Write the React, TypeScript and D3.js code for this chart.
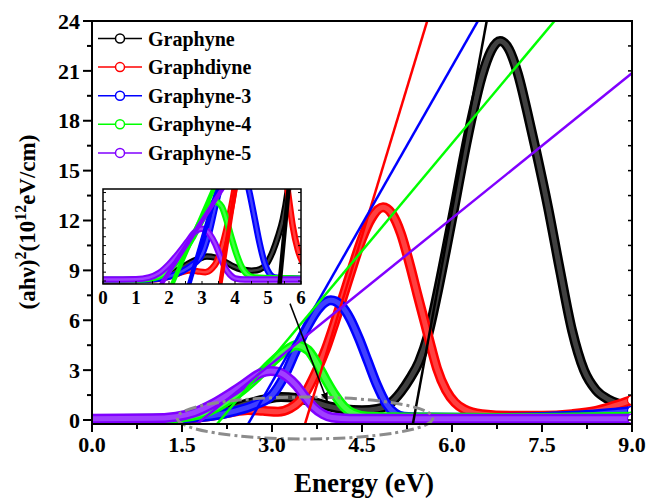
import React from "react";
import * as d3 from "d3";

const seriesNames = ["Graphyne", "Graphdiyne", "Graphyne-3", "Graphyne-4", "Graphyne-5"];
const seriesColors = ["#000000", "#ff0000", "#0000ff", "#00ff00", "#8000ff"];

const graphyne: [number, number][] = [
  [0, 0.03], [0.5, 0.03], [1.0, 0.05], [1.5, 0.12], [2.0, 0.35], [2.3, 0.65], [2.6, 1.0], [2.9, 1.25],
  [3.15, 1.38], [3.4, 1.32], [3.7, 1.08], [3.95, 0.82], [4.2, 0.65], [4.5, 0.58], [4.75, 0.66], [4.95, 0.95],
  [5.15, 1.7], [5.3, 2.5], [5.45, 3.5], [5.6, 5.1], [5.75, 7.5], [5.9, 10.2], [6.05, 13.0], [6.2, 15.9],
  [6.35, 18.5], [6.5, 20.7], [6.65, 22.2], [6.8, 22.8], [6.95, 22.3], [7.1, 20.8], [7.25, 18.6], [7.4, 16.2],
  [7.6, 12.8], [7.8, 9.0], [8.0, 5.4], [8.2, 3.0], [8.4, 1.8], [8.6, 1.25], [8.8, 0.95], [9.0, 0.8],
];
const graphdiyne: [number, number][] = [
  [0, 0.03], [1.0, 0.05], [1.5, 0.08], [2.0, 0.25], [2.3, 0.45], [2.6, 0.6], [2.85, 0.55], [3.1, 0.5],
  [3.3, 0.7], [3.45, 1.1], [3.6, 1.9], [3.75, 3.0], [3.9, 4.3], [4.05, 5.9], [4.2, 7.6], [4.35, 9.3],
  [4.5, 10.9], [4.65, 12.1], [4.85, 12.8], [5.0, 12.4], [5.15, 11.2], [5.3, 9.3], [5.42, 7.6], [5.55, 5.8],
  [5.65, 4.4], [5.75, 3.1], [5.9, 1.8], [6.05, 1.05], [6.2, 0.65], [6.5, 0.35], [7.0, 0.25], [7.5, 0.25],
  [8.0, 0.35], [8.4, 0.55], [8.7, 0.85], [9.0, 1.2],
];
const graphyne3: [number, number][] = [
  [0, 0.05], [1.0, 0.06], [1.5, 0.1], [2.0, 0.25], [2.4, 0.55], [2.7, 0.9], [3.0, 1.5], [3.2, 2.6],
  [3.4, 4.2], [3.6, 5.7], [3.8, 6.8], [3.98, 7.2], [4.15, 6.9], [4.3, 6.1], [4.45, 4.9], [4.6, 3.5],
  [4.75, 2.1], [4.9, 1.0], [5.05, 0.4], [5.2, 0.2], [5.6, 0.15], [6.5, 0.12], [7.5, 0.18], [8.0, 0.25],
  [8.5, 0.38], [9.0, 0.55],
];
const graphyne4: [number, number][] = [
  [0, 0.05], [1.0, 0.07], [1.5, 0.15], [1.8, 0.35], [2.1, 0.8], [2.4, 1.5], [2.7, 2.4], [2.95, 3.3],
  [3.2, 4.1], [3.4, 4.5], [3.6, 4.2], [3.75, 3.4], [3.9, 2.4], [4.05, 1.5], [4.2, 0.8], [4.35, 0.4],
  [4.6, 0.2], [5.5, 0.15], [7.0, 0.12], [8.0, 0.15], [9.0, 0.2],
];
const graphyne5: [number, number][] = [
  [0, 0.08], [1.0, 0.1], [1.4, 0.2], [1.7, 0.45], [2.0, 0.95], [2.3, 1.6], [2.55, 2.2], [2.8, 2.8],
  [2.98, 2.95], [3.1, 2.9], [3.25, 2.6], [3.4, 2.1], [3.55, 1.4], [3.7, 0.75], [3.85, 0.35], [4.0, 0.15],
  [4.3, 0.08], [6.0, 0.08], [9.0, 0.08],
];
const seriesData = [graphyne, graphdiyne, graphyne3, graphyne4, graphyne5];

// Tauc linear fits: x-intercept (eV) and slope
const taucIntercept = [5.36, 3.57, 2.64, 2.14, 1.83];
const taucSlope = [19.7, 11.9, 6.33, 4.31, 2.91];

const xTickLabels = ["0.0", "1.5", "3.0", "4.5", "6.0", "7.5", "9.0"];
const xTickValues = [0, 1.5, 3, 4.5, 6, 7.5, 9];
const yTickValues = [0, 3, 6, 9, 12, 15, 18, 21, 24];
const insetTickValues = [0, 1, 2, 3, 4, 5, 6];

// annotation (data coords)
const arrowFrom: [number, number] = [3.3, 7.0];
const arrowTo: [number, number] = [3.92, 1.15];
const ellipseCenter: [number, number] = [3.55, 0.12];
const ellipseRadii: [number, number] = [2.13, 1.26];

const FONT = "Liberation Serif";

export default function App() {
  const x = d3.scaleLinear().domain([0, 9]).range([92, 632]);
  const y = d3.scaleLinear().domain([-0.24, 24]).range([424, 21]);
  const ix = d3.scaleLinear().domain([0, 6]).range([103, 301]);
  const iy = d3.scaleLinear().domain([-0.17, 5.2]).range([284, 189]);

  const line = d3.line<[number, number]>().x((d) => x(d[0])).y((d) => y(d[1])).curve(d3.curveMonotoneX);
  const iline = d3.line<[number, number]>().x((d) => ix(d[0])).y((d) => iy(d[1])).curve(d3.curveMonotoneX);

  const taucPts = (i: number): [number, number][] => {
    const e0 = taucIntercept[i] - 1 / taucSlope[i];
    return [
      [e0, -1],
      [9.5, taucSlope[i] * (9.5 - taucIntercept[i])],
    ];
  };
  const straight = d3.line<[number, number]>().x((d) => x(d[0])).y((d) => y(d[1]));
  const istraight = d3.line<[number, number]>().x((d) => ix(d[0])).y((d) => iy(d[1]));

  const xMinor = d3.range(0, 9.001, 0.75);
  const yMinor = d3.range(0, 24.001, 1.5);
  const [x0, x1] = x.range();
  const [yb, yt] = y.range();
  const [ix0, ix1] = ix.range();
  const [iyb, iyt] = iy.range();

  const txt = { fontFamily: FONT, fontWeight: 700 } as React.CSSProperties;

  return (
    <svg
      width={647}
      height={499}
      style={{ position: "absolute", left: 0, top: 0, background: "#fff", fontFamily: FONT, fontWeight: 700 }}
    >
      <defs>
        <clipPath id="mainClip">
          <rect x={x0} y={yt} width={x1 - x0} height={yb - yt} />
        </clipPath>
        <clipPath id="insetClip">
          <rect x={ix0} y={iyt} width={ix1 - ix0} height={iyb - iyt} />
        </clipPath>
        <marker id="arrowHead" viewBox="0 0 10 10" refX="9" refY="5" markerWidth="9" markerHeight="9" markerUnits="userSpaceOnUse" orient="auto">
          <path d="M0,1 L10,5 L0,9 z" fill="#000" />
        </marker>
      </defs>
      <rect x={0} y={0} width={647} height={499} fill="#fff" />

      {/* main curves */}
      <g clipPath="url(#mainClip)">
        {seriesData.map((d, i) => (
          <g key={i}>
            <path d={line(d) || ""} fill="none" stroke={seriesColors[i]} strokeWidth={10} strokeLinejoin="round" strokeLinecap="round" />
            <path d={line(d) || ""} fill="none" stroke="#fff" strokeOpacity={0.25} strokeWidth={5} strokeLinejoin="round" strokeLinecap="round" />
            <circle cx={x(d[d.length - 1][0])} cy={y(d[d.length - 1][1])} r={4.5} fill="#fff" stroke={seriesColors[i]} strokeWidth={1.2} />
          </g>
        ))}
        {taucIntercept.map((_, i) => (
          <path key={"t" + i} d={straight(taucPts(i)) || ""} fill="none" stroke={seriesColors[i]} strokeWidth={2.5} />
        ))}
      </g>

      {/* ellipse annotation */}
      <ellipse
        cx={x(ellipseCenter[0])}
        cy={y(ellipseCenter[1])}
        rx={x(ellipseRadii[0]) - x(0)}
        ry={y(0) - y(ellipseRadii[1])}
        fill="none"
        stroke="#8c8c8c"
        strokeWidth={3}
        strokeDasharray="12 4 3 4"
      />

      {/* main frame */}
      <rect x={x0} y={yt} width={x1 - x0} height={yb - yt} fill="none" stroke="#000" strokeWidth={2} />
      {xMinor.map((v, i) => {
        const major = Math.abs(v / 1.5 - Math.round(v / 1.5)) < 1e-6;
        return <line key={"xt" + i} x1={x(v)} x2={x(v)} y1={yb} y2={yb + (major ? 8 : 5)} stroke="#000" strokeWidth={2} />;
      })}
      {xTickValues.map((v, i) => (
        <text key={"xl" + i} x={x(v)} y={452} textAnchor="middle" fontSize={22} style={txt}>
          {xTickLabels[i]}
        </text>
      ))}
      {yMinor.map((v, i) => {
        const major = Math.abs(v / 3 - Math.round(v / 3)) < 1e-6;
        return <line key={"yt" + i} x1={x0 - (major ? 9 : 5)} x2={x0} y1={y(v)} y2={y(v)} stroke="#000" strokeWidth={2} />;
      })}
      {yMinor.map((v, i) => (
        <line key={"yr" + i} x1={x1 - 4} x2={x1} y1={y(v)} y2={y(v)} stroke="#000" strokeWidth={1.5} />
      ))}
      {yTickValues.map((v, i) => (
        <text key={"yl" + i} x={80} y={y(v)} dy="0.35em" textAnchor="end" fontSize={22} style={txt}>
          {String(v)}
        </text>
      ))}

      {/* axis titles */}
      <text x={364} y={492} textAnchor="middle" fontSize={27} style={txt}>
        Energy (eV)
      </text>
      <text transform="translate(35,222) rotate(-90)" textAnchor="middle" fontSize={23} style={txt}>
        (ahν)<tspan dy={-9} fontSize={16}>2</tspan>
        <tspan dy={9}>(10</tspan>
        <tspan dy={-9} fontSize={16}>12</tspan>
        <tspan dy={9}>eV/cm)</tspan>
      </text>

      {/* legend */}
      {seriesNames.map((n, i) => {
        const ly = 38.5 + i * 28.6;
        return (
          <g key={"lg" + i}>
            <line x1={98} x2={142} y1={ly} y2={ly} stroke={seriesColors[i]} strokeWidth={1.5} />
            <circle cx={120} cy={ly} r={4.5} fill="#fff" stroke={seriesColors[i]} strokeWidth={1.5} />
            <text x={148} y={ly} dy="0.35em" fontSize={20} style={txt}>
              {n}
            </text>
          </g>
        );
      })}

      {/* inset */}
      <rect x={ix0} y={iyt} width={ix1 - ix0} height={iyb - iyt} fill="#fff" />
      <g clipPath="url(#insetClip)">
        {seriesData.map((d, i) => (
          <g key={"i" + i}>
            <path d={iline(d) || ""} fill="none" stroke={seriesColors[i]} strokeWidth={6.5} strokeLinejoin="round" />
            <path d={iline(d) || ""} fill="none" stroke="#fff" strokeOpacity={0.25} strokeWidth={2.5} strokeLinejoin="round" />
          </g>
        ))}
        {taucIntercept.map((_, i) => (
          <path key={"it" + i} d={istraight(taucPts(i)) || ""} fill="none" stroke={seriesColors[i]} strokeWidth={4.5} />
        ))}
      </g>
      <rect x={ix0} y={iyt} width={ix1 - ix0} height={iyb - iyt} fill="none" stroke="#000" strokeWidth={1.5} />
      {d3.range(0, 6.001, 0.5).map((v, i) => (
        <line key={"ixt" + i} x1={ix(v)} x2={ix(v)} y1={iyb} y2={iyb - 3} stroke="#000" strokeWidth={1} />
      ))}
      {d3.range(0, 5.001, 0.5).map((v, i) => (
        <g key={"iyt" + i}>
          <line x1={ix0} x2={ix0 + 3} y1={iy(v)} y2={iy(v)} stroke="#000" strokeWidth={1} />
          <line x1={ix1 - 3} x2={ix1} y1={iy(v)} y2={iy(v)} stroke="#000" strokeWidth={1} />
        </g>
      ))}
      {insetTickValues.map((v, i) => (
        <text key={"ixl" + i} x={ix(v)} y={304} textAnchor="middle" fontSize={19} style={txt}>
          {String(v)}
        </text>
      ))}

      {/* arrow */}
      <line
        x1={x(arrowFrom[0])}
        y1={y(arrowFrom[1])}
        x2={x(arrowTo[0])}
        y2={y(arrowTo[1])}
        stroke="#000"
        strokeWidth={1.5}
        markerEnd="url(#arrowHead)"
      />
    </svg>
  );
}
